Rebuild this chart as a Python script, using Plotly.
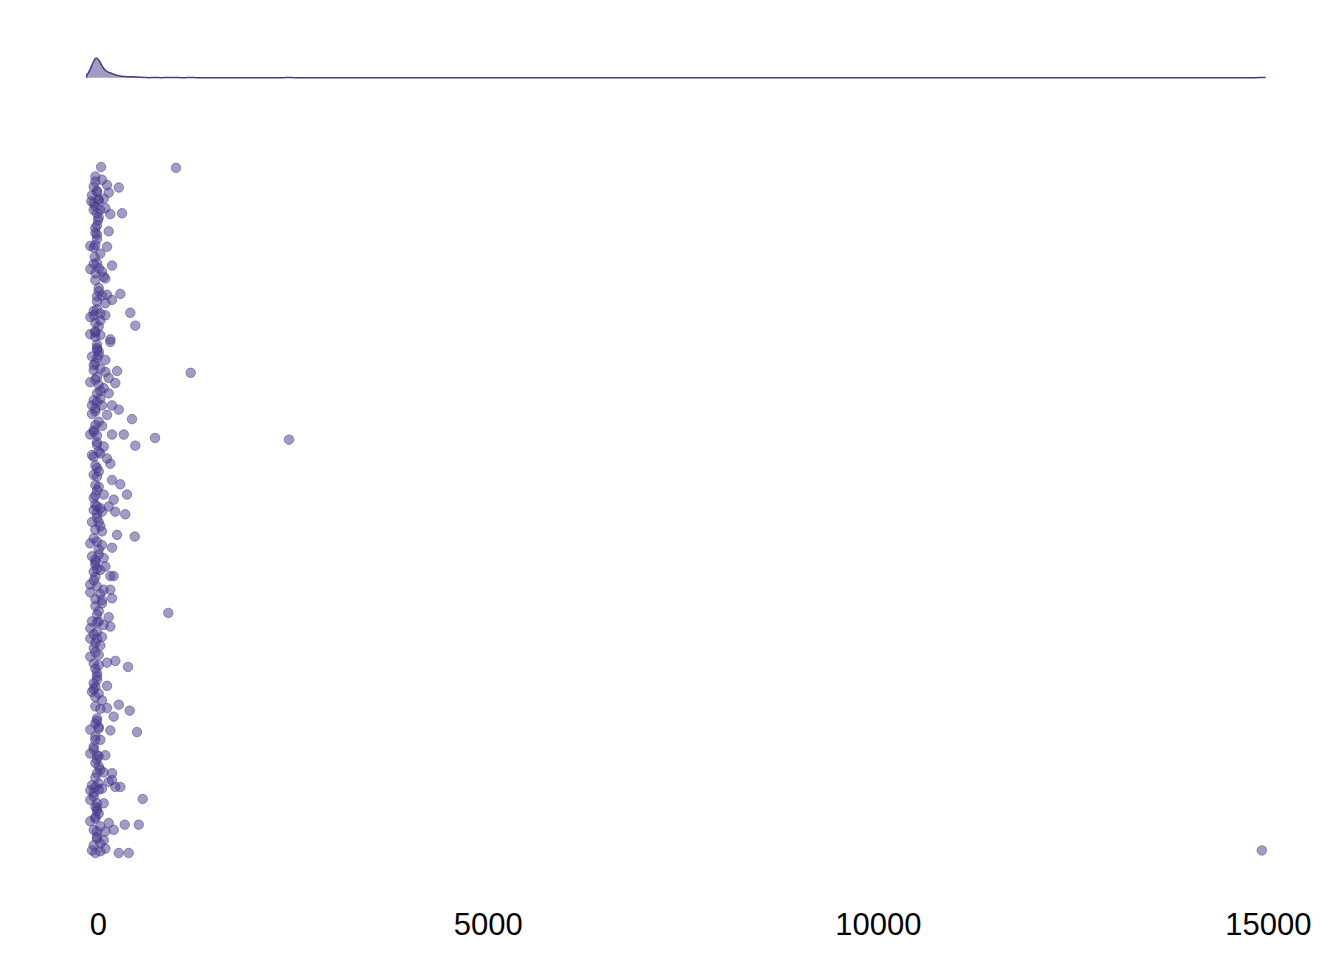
import plotly.graph_objects as go

# ---- data (value, vertical jitter) ----
x_top = [35, -38, 47, 112, -59, -17, -81, 133, 262, -90,
         5, 69, -38, 26, 90, 154, 304, -17, -59, -4,
         -17, 133, -38, -17, -103, -38, -59, 112, -46, -17,
         176, -103, 5, 47, 69, 90, -38, 5, -17, 47,
         112, 176, 282, 90, -17, -59, -103, 26, 90, 410,
         -38, 5, 474, -103, -38, 26, 154]
j_top = [0.400, 0.383, 0.385, 0.379, 0.377, 0.371, 0.367, 0.370, 0.376, 0.360,
         0.362, 0.363, 0.354, 0.350, 0.352, 0.345, 0.346, 0.346, 0.350, 0.338,
         0.332, 0.325, 0.323, 0.321, 0.308, 0.309, 0.306, 0.307, 0.295, 0.288,
         0.285, 0.281, 0.282, 0.278, 0.272, 0.270, 0.276, 0.255, 0.249, 0.250,
         0.251, 0.245, 0.252, 0.241, 0.234, 0.227, 0.225, 0.229, 0.227, 0.230,
         0.218, 0.214, 0.215, 0.205, 0.208, 0.204, 0.199]

x_upper = [-38, 154, -17, 5, -81, -17, 90, -38, -59, 26,
           90, 240, -17, 133, -103, 5, 69, 218, -17, 133,
           -59, 26, -81, 47, 176, 262, -38, -81, 112, 432,
           -38, 47, -59, -103, -17, 176, 326, 727, 474, -17,
           69, -81, 5, 112, 154, -17, -59, 5, 176, 282,
           368, -38, -17, 69, -38, 197, 133, -17, -59, 26,
           218, 346]
j_upper = [0.202, 0.196, 0.189, 0.185, 0.179, 0.177, 0.175, 0.171, 0.163, 0.165,
           0.161, 0.162, 0.155, 0.154, 0.149, 0.146, 0.142, 0.148, 0.136, 0.136,
           0.128, 0.130, 0.122, 0.122, 0.122, 0.117, 0.115, 0.112, 0.111, 0.106,
           0.099, 0.098, 0.093, 0.088, 0.087, 0.088, 0.088, 0.084, 0.075, 0.076,
           0.074, 0.064, 0.068, 0.060, 0.054, 0.049, 0.041, 0.045, 0.035, 0.030,
           0.018, 0.029, 0.023, 0.018, 0.017, 0.012, 0.004, 0.004, 0.000, 0.002,
           -0.002, -0.005]

x_lower = [-17, 47, -81, 5, -38, 47, 240, 467, -103, -17,
           47, 176, -81, 5, 69, -38, -59, 26, 90, -38,
           154, 197, -103, -17, 69, 154, -103, -38, 47, 47,
           176, -17, 133, -81, 5, 69, 154, -103, -17, -103,
           -17, 47, -38, -59, -103, 5, -59, 112, 218, 381,
           -38, -17, -59, 112, 897]
j_lower = [-0.004, -0.002, -0.014, -0.014, -0.023, -0.025, -0.029, -0.031, -0.039, -0.037,
           -0.041, -0.044, -0.054, -0.052, -0.056, -0.064, -0.072, -0.070, -0.066, -0.078,
           -0.077, -0.077, -0.087, -0.089, -0.093, -0.093, -0.096, -0.104, -0.105, -0.109,
           -0.103, -0.122, -0.125, -0.130, -0.130, -0.134, -0.136, -0.138, -0.142, -0.150,
           -0.150, -0.148, -0.155, -0.161, -0.171, -0.169, -0.179, -0.178, -0.176, -0.183,
           -0.185, -0.190, -0.202, -0.205, -0.120]

x_bottom = [-38, -81, 5, 47, -38, 112, 262, 403, 197, -17,
            -38, -103, 5, 154, 496, -38, 26, -59, -103, 90,
            -17, -38, 5, -17, 69, 176, 176, 133, 218, 282,
            -81, 5, -38, 47, -103, -59, 569, -103, -17, 69,
            -17, 5, -103, -38, 133, 338, 518, -59, -17, 90,
            197, -17, 69, 26, -81, -38, 90, 26, 262, 390]
j_bottom = [-0.206, -0.212, -0.214, -0.222, -0.229, -0.231, -0.227, -0.234, -0.241, -0.243,
            -0.249, -0.256, -0.255, -0.257, -0.259, -0.264, -0.268, -0.276, -0.284, -0.286,
            -0.286, -0.295, -0.299, -0.307, -0.306, -0.307, -0.315, -0.317, -0.323, -0.323,
            -0.321, -0.319, -0.323, -0.325, -0.327, -0.330, -0.337, -0.338, -0.342, -0.342,
            -0.348, -0.354, -0.363, -0.360, -0.365, -0.367, -0.367, -0.373, -0.375, -0.375,
            -0.373, -0.383, -0.385, -0.389, -0.397, -0.400, -0.395, -0.398, -0.400, -0.400]

# points hidden inside the dark, overlapping core of the strip
x_core = [-38, -17, -59, 5, -38, -17, 26, -59, -38, 5,
          -17, -59, 26, -38, -17, 5, -59, -38, 26, -17,
          -38, 5, -59, -17, 26, -38, -17, 5, -59, -38,
          -17, 26, -59, 5, -38, -17, -59, 26, -38, 5,
          -17, -59, 26, -38, 5, -17, -59, -38, 26, -17,
          5, -38, -59, -17, 26, -38, 5, -59, -17, -38,
          26, -17, -59, -38, 5, -17, -38, -59, -17, 5]
j_core = [0.389, 0.372, 0.358, 0.341, 0.329, 0.316, 0.299, 0.287, 0.268, 0.259,
          0.243, 0.232, 0.221, 0.207, 0.193, 0.181, 0.169, 0.152, 0.139, 0.126,
          0.118, 0.103, 0.091, 0.079, 0.066, 0.052, 0.039, 0.027, 0.014, 0.006,
          -0.009, -0.019, -0.033, -0.046, -0.061, -0.069, -0.082, -0.098, -0.112, -0.118,
          -0.131, -0.145, -0.158, -0.166, -0.181, -0.194, -0.209, -0.218, -0.232, -0.246,
          -0.253, -0.268, -0.279, -0.291, -0.303, -0.312, -0.326, -0.334, -0.351, -0.358,
          -0.369, -0.381, -0.391, -0.346, -0.287, -0.198, -0.058, 0.062, 0.187, 0.361]

x_outliers = [996, 1184, 2445, 14918]
j_outliers = [0.399, 0.160, 0.082, -0.397]

tick_values = [0, 5000, 10000, 15000]
tick_labels = ["0", "5000", "10000", "15000"]

values = x_top + x_upper + x_lower + x_bottom + x_core + x_outliers
jitter = j_top + j_upper + j_lower + j_bottom + j_core + j_outliers

POINT = "rgba(70,58,140,0.5)"
LINE = "#463A8C"

fig = go.Figure()
fig.add_trace(go.Scatter(
    x=values, y=jitter, mode="markers",
    marker=dict(size=9.5, color=POINT, line=dict(color=POINT, width=1)),
    showlegend=False, hoverinfo="x",
))
fig.add_trace(go.Violin(
    x=values, y0=0, orientation="h", side="positive", width=1,
    spanmode="manual", span=[-150, 14960], bandwidth=45, points=False,
    box_visible=False, meanline_visible=False,
    line=dict(color=LINE, width=1.5), fillcolor=POINT,
    xaxis="x", yaxis="y2", showlegend=False, hoverinfo="skip",
))

fig.update_layout(
    width=1344, height=960,
    margin=dict(l=30, r=24, t=0, b=0),
    paper_bgcolor="white", plot_bgcolor="white",
    font=dict(family="Liberation Sans, Arial, sans-serif", color="black"),
    xaxis=dict(
        range=[-876, 15663], domain=[0, 1], anchor="y",
        tickmode="array", tickvals=tick_values, ticktext=tick_labels,
        tickfont=dict(size=31, color="black"), ticklabelstandoff=3,
        showgrid=False, zeroline=False, showline=False, ticks="",
    ),
    yaxis=dict(domain=[0.0625, 0.875], range=[-0.4548, 0.4548], visible=False),
    yaxis2=dict(domain=[0.9146, 0.9583], range=[-0.111, 0.972], visible=False,
                anchor="x"),
)

fig.write_html("out.html")
